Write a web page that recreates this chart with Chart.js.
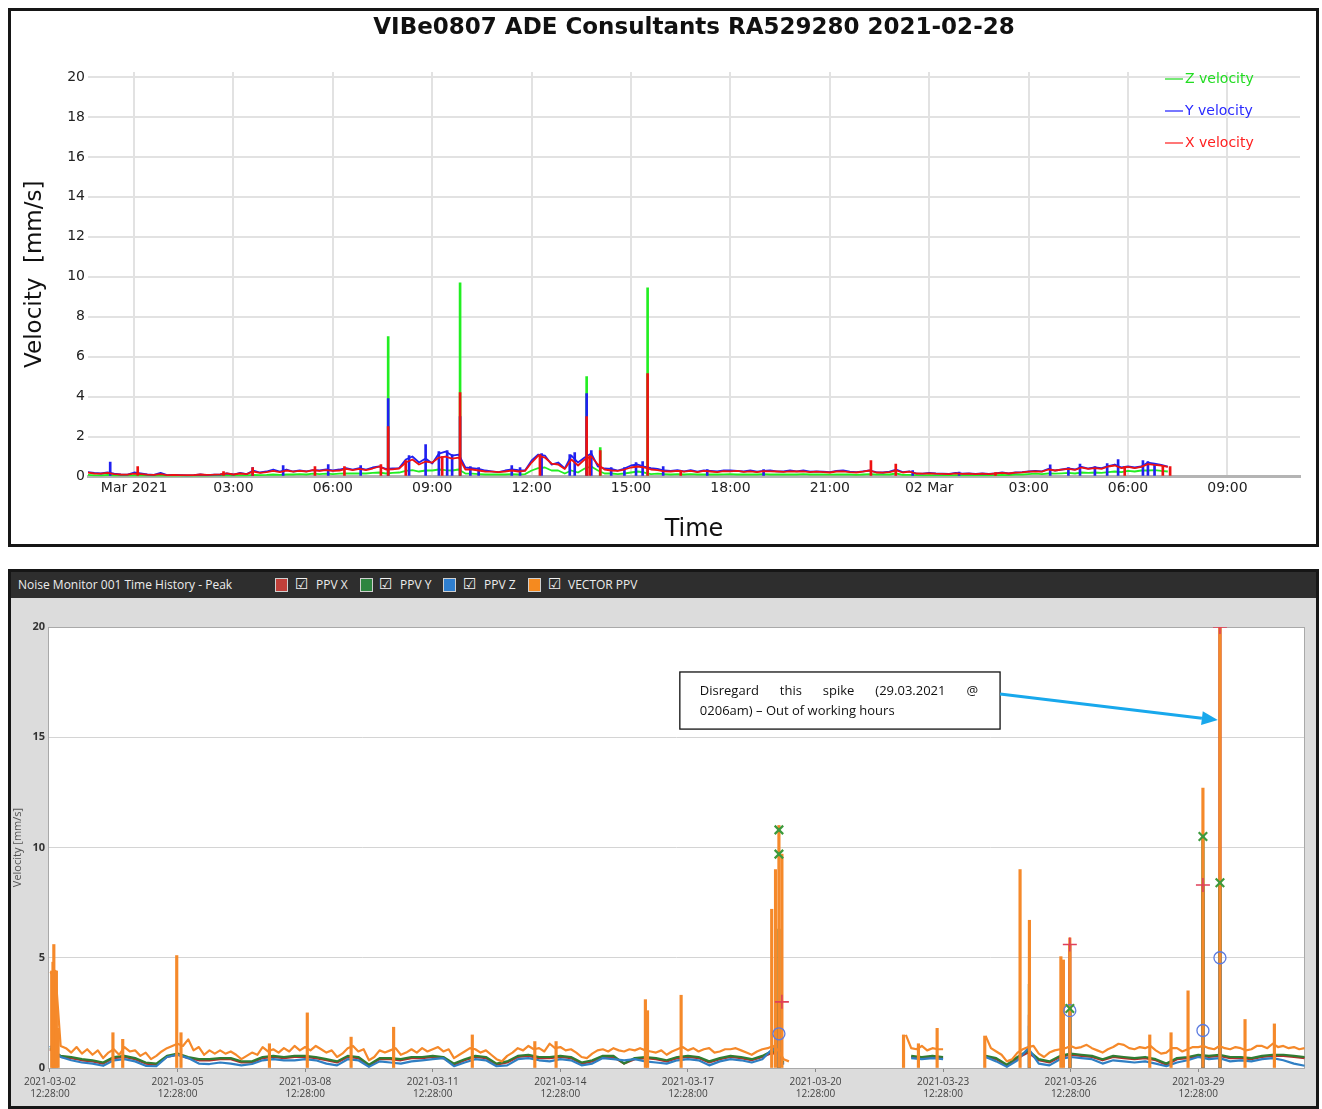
<!DOCTYPE html>
<html>
<head>
<meta charset="utf-8">
<title>Vibration charts</title>
<script src="https://cdn.jsdelivr.net/npm/chart.js@4.4.1/dist/chart.umd.min.js"></script>
<style>
  body { margin: 0; background: #fff; width: 1322px; height: 1109px; position: relative; overflow: hidden; }
  #top { position: absolute; left: 8px; top: 8px; width: 1311px; height: 539px; border: 3px solid #161616; box-sizing: border-box; background: #fff; }
  #bot { position: absolute; left: 8px; top: 569px; width: 1311px; height: 540px; border: 3px solid #161616; box-sizing: border-box; background: #dcdcdc; }
  #hdr { position: relative; height: 26px; background: #2e2e2e; color: #ececec; font: 12px 'Open Sans', sans-serif; }
  #hdr span { position: absolute; top: 0; line-height: 26px; white-space: nowrap; }
  #hdr .sw { top: 6px; width: 13px; height: 14px; border: 1px solid #d0d0d0; box-sizing: border-box; }
  #hdr .ck { font: 15px 'DejaVu Sans', sans-serif; color: #f2f2f2; line-height: 25px; }
  canvas { display: block; }
</style>
</head>
<body>
<div id="top"><canvas id="vibChart" width="1305" height="533"></canvas></div>
<div id="bot">
  <div id="hdr">
    <span style="left:7px">Noise Monitor 001 Time History - Peak</span>
    <span class="sw" style="left:264px;background:#c0403a"></span><span class="ck" style="left:284px">☑</span><span style="left:305px">PPV X</span>
    <span class="sw" style="left:349px;background:#2e8540"></span><span class="ck" style="left:368px">☑</span><span style="left:389px">PPV Y</span>
    <span class="sw" style="left:432px;background:#2f7fd0"></span><span class="ck" style="left:452px">☑</span><span style="left:473px">PPV Z</span>
    <span class="sw" style="left:517px;background:#f58a1f"></span><span class="ck" style="left:537px">☑</span><span style="left:557px">VECTOR PPV</span>
  </div>
  <canvas id="noiseChart" width="1305" height="508"></canvas>
</div>
<script>
// ---------- top chart: hours from 01 Mar 2021 00:00, one sample every 12 min ----------
const topStart = -1.4;
const topStep = 0.2;

// each row = one hour (5 samples)
const xVel = [
  0.20, 0.15, 0.14, 0.18, 0.12,
  0.10, 0.09, 0.14, 0.12, 0.09,
  0.08, 0.12, 0.07, 0.08, 0.07,
  0.07, 0.07, 0.10, 0.08, 0.09,
  0.11, 0.16, 0.10, 0.15, 0.12,
  0.25, 0.18, 0.22, 0.28, 0.22,
  0.30, 0.24, 0.28, 0.25, 0.32,
  0.28, 0.32, 0.28, 0.30, 0.38,
  0.32, 0.38, 0.32, 0.40, 0.50,
  0.35, 0.36, 0.40, 0.70, 0.85,
  0.60, 0.75, 0.70, 0.95, 1.00,
  0.90, 0.95, 0.35, 0.35, 0.30,
  0.25, 0.24, 0.22, 0.25, 0.30,
  0.25, 0.28, 0.70, 1.05, 0.95,
  0.65, 0.60, 0.38, 0.85, 0.55,
  0.85, 1.00, 0.60, 0.35, 0.30,
  0.28, 0.35, 0.45, 0.50, 0.45,
  0.35, 0.32, 0.26, 0.25, 0.28,
  0.24, 0.28, 0.22, 0.28, 0.25,
  0.22, 0.27, 0.26, 0.28, 0.23,
  0.26, 0.22, 0.27, 0.26, 0.25,
  0.23, 0.26, 0.25, 0.26, 0.22,
  0.24, 0.22, 0.20, 0.25, 0.26,
  0.22, 0.20, 0.24, 0.30, 0.20,
  0.19, 0.22, 0.30, 0.20, 0.24,
  0.15, 0.14, 0.16, 0.14, 0.13,
  0.12, 0.16, 0.13, 0.14, 0.12,
  0.14, 0.12, 0.15, 0.18, 0.15,
  0.19, 0.21, 0.24, 0.26, 0.24,
  0.35, 0.30, 0.34, 0.38, 0.33,
  0.45, 0.38, 0.42, 0.38, 0.50,
  0.55, 0.42, 0.48, 0.42, 0.48,
  0.62, 0.58, 0.55, 0.48
];
const yVel = [
  0.22, 0.18, 0.15, 0.20, 0.14,
  0.10, 0.09, 0.20, 0.15, 0.10,
  0.08, 0.18, 0.07, 0.08, 0.07,
  0.06, 0.07, 0.10, 0.07, 0.09,
  0.10, 0.15, 0.10, 0.18, 0.12,
  0.30, 0.20, 0.25, 0.35, 0.25,
  0.35, 0.25, 0.30, 0.26, 0.32,
  0.30, 0.35, 0.30, 0.35, 0.42,
  0.35, 0.42, 0.35, 0.45, 0.50,
  0.38, 0.40, 0.42, 0.85, 1.00,
  0.70, 0.90, 0.65, 1.15, 1.25,
  1.05, 1.10, 0.45, 0.42, 0.38,
  0.30, 0.26, 0.22, 0.30, 0.35,
  0.32, 0.30, 0.80, 1.10, 1.05,
  0.60, 0.70, 0.40, 1.05, 0.70,
  0.95, 1.15, 0.50, 0.40, 0.38,
  0.30, 0.40, 0.55, 0.60, 0.50,
  0.42, 0.38, 0.30, 0.28, 0.32,
  0.26, 0.32, 0.24, 0.30, 0.28,
  0.25, 0.30, 0.30, 0.28, 0.25,
  0.30, 0.24, 0.28, 0.30, 0.26,
  0.25, 0.30, 0.26, 0.30, 0.24,
  0.26, 0.24, 0.22, 0.28, 0.30,
  0.24, 0.22, 0.26, 0.30, 0.22,
  0.20, 0.24, 0.35, 0.22, 0.26,
  0.16, 0.14, 0.18, 0.15, 0.14,
  0.13, 0.18, 0.14, 0.15, 0.13,
  0.15, 0.13, 0.16, 0.20, 0.15,
  0.20, 0.22, 0.25, 0.28, 0.26,
  0.38, 0.30, 0.35, 0.40, 0.35,
  0.48, 0.40, 0.45, 0.42, 0.52,
  0.60, 0.45, 0.50, 0.45, 0.50,
  0.70, 0.65, 0.58, 0.50
];
const zVel = [
  0.08, 0.06, 0.05, 0.08, 0.05,
  0.04, 0.04, 0.06, 0.05, 0.04,
  0.03, 0.04, 0.03, 0.03, 0.03,
  0.03, 0.03, 0.04, 0.03, 0.04,
  0.04, 0.05, 0.04, 0.05, 0.05,
  0.08, 0.07, 0.08, 0.10, 0.08,
  0.10, 0.10, 0.12, 0.10, 0.14,
  0.12, 0.14, 0.12, 0.14, 0.16,
  0.15, 0.16, 0.15, 0.18, 0.20,
  0.15, 0.18, 0.20, 0.28, 0.32,
  0.25, 0.30, 0.30, 0.35, 0.32,
  0.30, 0.35, 0.15, 0.14, 0.12,
  0.10, 0.10, 0.10, 0.10, 0.12,
  0.10, 0.12, 0.30, 0.42, 0.45,
  0.30, 0.30, 0.15, 0.30, 0.20,
  0.40, 0.50, 0.30, 0.15, 0.15,
  0.12, 0.15, 0.20, 0.25, 0.20,
  0.12, 0.14, 0.12, 0.10, 0.12,
  0.10, 0.12, 0.10, 0.11, 0.10,
  0.10, 0.11, 0.12, 0.10, 0.10,
  0.11, 0.10, 0.12, 0.10, 0.11,
  0.10, 0.11, 0.10, 0.12, 0.10,
  0.10, 0.10, 0.09, 0.10, 0.11,
  0.10, 0.08, 0.10, 0.12, 0.10,
  0.10, 0.10, 0.15, 0.08, 0.08,
  0.07, 0.06, 0.07, 0.06, 0.06,
  0.06, 0.07, 0.06, 0.06, 0.06,
  0.07, 0.06, 0.07, 0.08, 0.07,
  0.10, 0.10, 0.12, 0.14, 0.12,
  0.15, 0.14, 0.16, 0.18, 0.15,
  0.20, 0.18, 0.20, 0.18, 0.22,
  0.25, 0.22, 0.28, 0.25, 0.30,
  0.30, 0.32, 0.28, 0.25
];

// single-reading peaks, per component
const xSpikeHours = [0.11, 2.7, 3.58, 5.46, 6.35, 7.45, 7.67, 8.2, 9.3, 9.84, 12.25, 13.66, 13.75, 14.07, 15.5, 16.5, 22.24, 22.99, 26.0, 29.9, 31.05, 31.27];
const xSpikeVals = [0.5, 0.25, 0.45, 0.5, 0.5, 0.6, 2.5, 0.8, 1.0, 4.2, 1.1, 3.0, 1.05, 1.3, 5.15, 0.3, 0.8, 0.62, 0.2, 0.5, 0.55, 0.5];
const ySpikeHours = [-0.72, 3.58, 4.5, 5.86, 6.84, 7.67, 8.3, 8.8, 9.2, 9.45, 9.6, 9.84, 10.15, 10.4, 11.4, 11.65, 12.3, 13.15, 13.3, 13.66, 13.8,
  14.4, 14.8, 15.15, 15.35, 15.97, 17.3, 19.0, 23.5, 24.9, 27.65, 28.2, 28.55, 29.0, 29.37, 29.7, 30.45, 30.6, 30.8];
const ySpikeVals = [0.72, 0.45, 0.55, 0.6, 0.55, 3.9, 1.05, 1.6, 1.25, 1.3, 1.1, 3.0, 0.5, 0.45, 0.55, 0.45, 1.15, 1.1, 1.2, 4.15, 1.3,
  0.45, 0.45, 0.7, 0.75, 0.5, 0.35, 0.35, 0.3, 0.22, 0.58, 0.45, 0.62, 0.5, 0.65, 0.85, 0.8, 0.75, 0.6];
const zSpikeHours = [7.67, 9.84, 13.66, 14.07, 15.5];
const zSpikeVals = [7.0, 9.7, 5.0, 1.45, 9.45];

const topTickHours = [0, 3, 6, 9, 12, 15, 18, 21, 24, 27, 30, 33];
const topTickLabels = ['Mar 2021', '03:00', '06:00', '09:00', '12:00', '15:00', '18:00', '21:00', '02 Mar', '03:00', '06:00', '09:00'];
const topYTicks = [0, 2, 4, 6, 8, 10, 12, 14, 16, 18, 20];

// ---------- bottom chart: days from 2021-03-02 12:28 ----------
const vecStep = 0.125;   // vector PPV every 3 h
const compStep = 0.25;   // components every 6 h

// each row = one day (8 samples), null = no data
const vectorPpv = [
  4.3, 4.4, 1.0, 0.9, 0.7, 0.95, 0.65, 0.85,
  0.6, 0.8, 0.45, 0.7, 0.85, 0.6, 0.95, 0.75,
  0.8, 0.55, 0.7, 0.4, 0.55, 0.75, 0.9, 1.0,
  1.1, 1.0, 1.3, 0.8, 0.95, 0.6, 0.8, 0.65,
  0.8, 0.65, 0.75, 0.6, 0.4, 0.55, 0.7, 0.6,
  0.95, 0.75, 0.85, 0.7, 0.9, 0.75, 1.0, 0.8,
  0.95, 0.8, 1.0, 0.85, 0.7, 0.8, 0.5, 0.65,
  0.9, 1.0, 0.75, 0.85, 0.35, 0.5, 0.8, 0.7,
  0.8, 0.9, 0.6, 0.7, 0.85, 0.7, 0.9, 0.75,
  0.85, 0.95, 0.75, 0.85, 0.45, 0.6, 0.75, 0.9,
  0.85, 0.7, 0.8, 0.6, 0.4, 0.3, 0.55, 0.7,
  0.9, 0.8, 1.0, 0.85, 0.9, 0.75, 1.1, 0.9,
  0.95, 0.8, 0.85, 0.7, 0.5, 0.45, 0.65, 0.8,
  0.85, 0.75, 0.9, 0.8, 0.75, 0.85, 0.8, 0.9,
  0.8, 0.75, 0.7, 0.8, 0.6, 0.75, 0.85, 0.95,
  0.8, 0.9, 0.75, 0.85, 0.9, 0.7, 0.75, 0.85,
  0.85, 0.9, 0.8, 0.7, 0.6, 0.75, 0.85, 0.9,
  1.0, 0.8, 0.4, 0.3, null, null, null, null,
  null, null, null, null, null, null, null, null,
  null, null, null, null, null, null, null, null,
  null, 1.5, 0.9, 0.85, 1.0, 0.8, 0.9, 0.85,
  0.85, null, null, null, null, null, null, null,
  1.45, 0.9, 0.75, 0.6, 0.3, 0.4, 0.7, 0.85,
  0.95, 1.0, 0.65, 0.5, 0.7, 0.8, 0.85, 0.9,
  1.0, 0.9, 0.95, 1.05, 0.9, 0.8, 0.7, 0.85,
  0.95, 1.1, 1.05, 0.9, 0.85, 0.95, 0.9, 1.0,
  0.8, 0.65, 0.7, 0.9, 0.9, 0.75, 0.85, 0.95,
  0.95, 1.0, 0.9, 0.85, 1.0, 0.9, 0.85, 0.95,
  0.9, 0.8, 0.85, 1.0, 1.0, 0.9, 1.1, 0.95,
  1.0, 0.9, 0.95, 0.85, 0.9
];
// each row = one day (4 samples)
const ppvZ = [
  1.0, 0.5, 0.35, 0.25,
  0.2, 0.1, 0.35, 0.4,
  0.3, 0.1, 0.08, 0.5,
  0.6, 0.45, 0.2, 0.18,
  0.25, 0.2, 0.12, 0.18,
  0.35, 0.4, 0.35, 0.35,
  0.4, 0.35, 0.2, 0.12,
  0.4, 0.35, 0.05, 0.3,
  0.25, 0.2, 0.3, 0.35,
  0.4, 0.45, 0.08, 0.25,
  0.4, 0.35, 0.08, 0.12,
  0.4, 0.45, 0.35, 0.3,
  0.4, 0.35, 0.12, 0.2,
  0.45, 0.4, 0.35, 0.4,
  0.3, 0.25, 0.2, 0.35,
  0.4, 0.35, 0.12, 0.3,
  0.4, 0.35, 0.25, 0.4,
  0.9, 0.15, null, null,
  null, null, null, null,
  null, null, null, null,
  null, 0.45, 0.4, 0.45,
  0.4, null, null, null,
  0.5, 0.3, 0.05, 0.35,
  0.9, 0.2, 0.12, 0.4,
  0.5, 0.45, 0.4, 0.2,
  0.35, 0.3, 0.25, 0.3,
  0.2, 0.08, 0.25, 0.35,
  0.5, 0.4, 0.45, 0.3,
  0.35, 0.3, 0.4, 0.45,
  0.35, 0.2, 0.1
];
const ppvY = [
  0.9, 0.55, 0.5, 0.4,
  0.35, 0.25, 0.5, 0.55,
  0.45, 0.25, 0.2, 0.55,
  0.65, 0.5, 0.4, 0.4,
  0.45, 0.45, 0.3, 0.3,
  0.5, 0.55, 0.5, 0.55,
  0.55, 0.5, 0.4, 0.3,
  0.55, 0.5, 0.15, 0.45,
  0.45, 0.4, 0.5, 0.5,
  0.55, 0.5, 0.2, 0.4,
  0.55, 0.5, 0.2, 0.3,
  0.55, 0.6, 0.5, 0.5,
  0.55, 0.5, 0.25, 0.35,
  0.55, 0.55, 0.2, 0.45,
  0.5, 0.45, 0.35, 0.5,
  0.55, 0.5, 0.3, 0.45,
  0.55, 0.5, 0.4, 0.55,
  0.8, 0.25, null, null,
  null, null, null, null,
  null, null, null, null,
  null, 0.55, 0.5, 0.55,
  0.5, null, null, null,
  0.55, 0.45, 0.15, 0.5,
  0.8, 0.4, 0.3, 0.55,
  0.65, 0.6, 0.55, 0.4,
  0.55, 0.5, 0.45, 0.5,
  0.4, 0.2, 0.45, 0.5,
  0.6, 0.55, 0.6, 0.5,
  0.5, 0.45, 0.55, 0.6,
  0.6, 0.55, 0.5
];
const ppvX = [
  0.85, 0.5, 0.45, 0.35,
  0.3, 0.2, 0.45, 0.5,
  0.4, 0.2, 0.15, 0.5,
  0.6, 0.45, 0.35, 0.35,
  0.4, 0.4, 0.25, 0.25,
  0.45, 0.5, 0.45, 0.5,
  0.5, 0.45, 0.35, 0.25,
  0.5, 0.45, 0.1, 0.4,
  0.4, 0.35, 0.45, 0.45,
  0.5, 0.45, 0.15, 0.35,
  0.5, 0.45, 0.15, 0.25,
  0.5, 0.55, 0.45, 0.45,
  0.5, 0.45, 0.2, 0.3,
  0.5, 0.5, 0.2, 0.4,
  0.45, 0.4, 0.3, 0.45,
  0.5, 0.45, 0.25, 0.4,
  0.5, 0.45, 0.35, 0.5,
  0.7, 0.2, null, null,
  null, null, null, null,
  null, null, null, null,
  null, 0.5, 0.45, 0.5,
  0.45, null, null, null,
  0.5, 0.4, 0.1, 0.45,
  0.7, 0.35, 0.25, 0.5,
  0.6, 0.55, 0.5, 0.35,
  0.5, 0.45, 0.4, 0.45,
  0.35, 0.15, 0.4, 0.45,
  0.55, 0.5, 0.55, 0.45,
  0.45, 0.4, 0.5, 0.55,
  0.55, 0.5, 0.45
];

// short peaks
const vectorSpikeDays = [0.04, 0.07, 0.09, 0.12, 0.15, 0.19, 1.48, 1.71, 2.98, 3.08, 5.16, 6.05, 7.08, 8.08, 9.93, 11.4, 11.9, 14.0, 14.05, 14.84,
  16.97, 17.06, 17.14, 17.21, 20.07, 20.42, 20.86, 21.98, 22.81, 23.03, 23.77, 23.83, 23.98, 25.86, 26.36, 26.76, 27.11, 27.51, 28.1, 28.79];
const vectorSpikeVals = [4.4, 4.8, 5.6, 4.4, 4.4, 1.8, 1.6, 1.3, 5.1, 1.6, 1.1, 2.5, 1.4, 1.85, 1.5, 1.2, 1.2, 3.1, 2.6, 3.3,
  7.2, 9.0, 11.0, 9.7, 1.5, 1.1, 1.8, 1.45, 9.0, 6.7, 5.05, 4.9, 5.9, 1.5, 1.6, 3.5, 12.7, 20.0, 2.2, 2.0];
const compSpikeDays = [17.14, 23.03, 23.98, 27.11, 27.51];
const ppvXSpikes = [3.0, 2.4, 5.6, 8.3, 20.0];
const ppvYSpikes = [6.3, 3.8, 2.7, 10.5, 8.4];
const ppvZSpikes = [1.55, 1.9, 2.6, 1.7, 5.0];

// peak markers
const peakXDays = [17.21, 23.98, 27.11, 27.51];
const peakXVals = [3.0, 5.6, 8.3, 20.0];
const peakYDays = [17.14, 17.14, 23.98, 27.11, 27.51];
const peakYVals = [10.8, 9.7, 2.7, 10.5, 8.4];
const peakZDays = [17.14, 23.98, 27.11, 27.51];
const peakZVals = [1.55, 2.6, 1.7, 5.0];

const botTickDays = [0, 3, 6, 9, 12, 15, 18, 21, 24, 27];
const botTickDates = ['2021-03-02', '2021-03-05', '2021-03-08', '2021-03-11', '2021-03-14', '2021-03-17', '2021-03-20', '2021-03-23', '2021-03-26', '2021-03-29'];
const botTickTime = '12:28:00';
const botYTicks = [0, 5, 10, 15, 20];

const noteLine1 = 'Disregard this spike (29.03.2021 @';
const noteLine2 = '0206am) \u2013 Out of working hours';
// annotation box + arrow in data units (days, mm/s)
const noteBox = { x0: 14.81, x1: 22.34, y0: 17.96, y1: 15.37, arrowFromY: 16.96, arrowToX: 27.46, arrowToY: 15.78 };

// ---------- helpers ----------
const pts = (xs, ys) => ys.map((v, i) => ({ x: xs[i], y: v }));
const topHours = xVel.map((_, i) => +(topStart + i * topStep).toFixed(2));
const vecDays = vectorPpv.map((_, i) => +(i * vecStep).toFixed(3));
const compDays = ppvZ.map((_, i) => +(i * compStep).toFixed(2));

function keepTicks(list) {
  return scale => { scale.ticks = list.map(v => ({ value: v })); };
}

// ---------- top chart ----------
const lineBase = { type: 'line', pointRadius: 0, borderWidth: 1.8, tension: 0, borderJoinStyle: 'round', spanGaps: false };
const barBase = { type: 'bar', barThickness: 2, grouped: false, borderWidth: 0 };

const topLegend = {
  id: 'topLegend',
  afterDraw(chart) {
    const { ctx, chartArea } = chart;
    const items = [
      { label: 'Z velocity', line: '#77e877', text: '#22dd22' },
      { label: 'Y velocity', line: '#7777ff', text: '#2a2aff' },
      { label: 'X velocity', line: '#ff7777', text: '#ff2020' }
    ];
    ctx.save();
    ctx.font = "14px 'DejaVu Sans'";
    ctx.textBaseline = 'middle';
    items.forEach((it, i) => {
      const yy = chartArea.top + 7 + i * 32;
      ctx.strokeStyle = it.line;
      ctx.lineWidth = 2;
      ctx.beginPath();
      ctx.moveTo(chartArea.right - 135, yy);
      ctx.lineTo(chartArea.right - 117, yy);
      ctx.stroke();
      ctx.fillStyle = it.text;
      ctx.fillText(it.label, chartArea.right - 115, yy);
    });
    ctx.restore();
  }
};

new Chart(document.getElementById('vibChart'), {
  type: 'line',
  data: {
    datasets: [
      { ...barBase, label: 'X spikes', data: pts(xSpikeHours, xSpikeVals), backgroundColor: '#ee1111' },
      { ...lineBase, label: 'X velocity', data: pts(topHours, xVel), borderColor: '#ee1111' },
      { ...barBase, label: 'Y spikes', data: pts(ySpikeHours, ySpikeVals), backgroundColor: '#2020f0' },
      { ...lineBase, label: 'Y velocity', data: pts(topHours, yVel), borderColor: '#2020f0' },
      { ...barBase, label: 'Z spikes', data: pts(zSpikeHours, zSpikeVals), backgroundColor: '#22ee22' },
      { ...lineBase, label: 'Z velocity', data: pts(topHours, zVel), borderColor: '#22ee22' }
    ]
  },
  options: {
    responsive: false,
    animation: false,
    events: [],
    layout: { padding: { left: 0, right: 16, top: 0, bottom: 0 } },
    plugins: {
      legend: { display: false },
      tooltip: { enabled: false },
      title: {
        display: true,
        fullSize: false,
        text: 'VIBe0807 ADE Consultants RA529280 2021-02-28',
        color: '#111',
        font: { family: "'DejaVu Sans'", size: 23, weight: 'bold' },
        padding: { top: 3, bottom: 30.4 }
      }
    },
    scales: {
      x: {
        type: 'linear',
        min: -1.39,
        max: 35.19,
        offset: false,
        afterBuildTicks: keepTicks(topTickHours),
        afterFit: s => { s.height = 67.5; },
        ticks: {
          maxRotation: 0,
          autoSkip: false,
          padding: 3,
          color: '#222',
          font: { family: "'DejaVu Sans'", size: 14 },
          callback: v => topTickLabels[topTickHours.indexOf(v)]
        },
        grid: { color: '#e2e2e2', lineWidth: 2, drawTicks: false, offset: false },
        border: { color: '#b4b4b4', width: 3 },
        title: { display: true, text: 'Time', color: '#111', font: { family: "'DejaVu Sans'", size: 24 }, padding: { top: 0, bottom: 0 } }
      },
      y: {
        min: 0,
        max: 20.25,
        afterBuildTicks: keepTicks(topYTicks),
        afterFit: s => { s.width = 77; },
        ticks: { padding: 3, color: '#222', font: { family: "'DejaVu Sans'", size: 14 } },
        grid: { color: '#e2e2e2', lineWidth: 2, drawTicks: false },
        border: { display: false },
        title: { display: true, text: 'Velocity  [mm/s]', color: '#111', font: { family: "'DejaVu Sans'", size: 23 }, padding: { top: 10, bottom: 0 } }
      }
    }
  },
  plugins: [topLegend]
});

// ---------- bottom chart ----------
const plotFrame = {
  id: 'plotFrame',
  beforeDraw(chart) {
    const { ctx, chartArea: a } = chart;
    ctx.save();
    ctx.fillStyle = '#ffffff';
    ctx.fillRect(a.left, a.top, a.right - a.left, a.bottom - a.top);
    ctx.restore();
  },
  beforeDatasetsDraw(chart) {
    const { ctx, chartArea: a } = chart;
    ctx.save();
    ctx.strokeStyle = '#a9a9a9';
    ctx.lineWidth = 1;
    ctx.strokeRect(a.left + 0.5, a.top + 0.5, a.right - a.left - 1, a.bottom - a.top);
    ctx.restore();
  }
};

const notePlugin = {
  id: 'note',
  afterDatasetsDraw(chart) {
    const { ctx, scales: { x, y } } = chart;
    const l = x.getPixelForValue(noteBox.x0), r = x.getPixelForValue(noteBox.x1);
    const t = y.getPixelForValue(noteBox.y0), b = y.getPixelForValue(noteBox.y1);
    ctx.save();
    ctx.fillStyle = '#fff';
    ctx.fillRect(l, t, r - l, b - t);
    ctx.strokeStyle = '#111';
    ctx.lineWidth = 1.3;
    ctx.strokeRect(l, t, r - l, b - t);
    ctx.font = "13px 'Open Sans'";
    ctx.fillStyle = '#111';
    ctx.textBaseline = 'middle';
    const words = noteLine1.split(' ');
    const tl = l + 20, tr = r - 22;
    const total = words.reduce((s, w) => s + ctx.measureText(w).width, 0);
    const gap = (tr - tl - total) / (words.length - 1);
    let cx = tl;
    words.forEach(w => { ctx.fillText(w, cx, t + 19); cx += ctx.measureText(w).width + gap; });
    ctx.fillText(noteLine2, tl, t + 39);

    // arrow
    const sx = r, sy = y.getPixelForValue(noteBox.arrowFromY);
    const ex = x.getPixelForValue(noteBox.arrowToX), ey = y.getPixelForValue(noteBox.arrowToY);
    const ang = Math.atan2(ey - sy, ex - sx);
    const head = 16, half = 7;
    ctx.strokeStyle = '#18a8ec';
    ctx.fillStyle = '#18a8ec';
    ctx.lineWidth = 3;
    ctx.beginPath();
    ctx.moveTo(sx, sy);
    ctx.lineTo(ex - head * Math.cos(ang), ey - head * Math.sin(ang));
    ctx.stroke();
    ctx.beginPath();
    ctx.moveTo(ex, ey);
    ctx.lineTo(ex - head * Math.cos(ang) + half * Math.sin(ang), ey - head * Math.sin(ang) - half * Math.cos(ang));
    ctx.lineTo(ex - head * Math.cos(ang) - half * Math.sin(ang), ey - head * Math.sin(ang) + half * Math.cos(ang));
    ctx.closePath();
    ctx.fill();
    ctx.restore();
  }
};

const botLine = { type: 'line', pointRadius: 0, borderWidth: 2.2, tension: 0, borderJoinStyle: 'round', spanGaps: false };
const botBar = { type: 'bar', barThickness: 2.5, grouped: false, borderWidth: 0 };
const marker = { type: 'line', showLine: false, pointRadius: 6, pointBorderWidth: 1.6, pointBackgroundColor: 'rgba(0,0,0,0)' };

new Chart(document.getElementById('noiseChart'), {
  type: 'line',
  data: {
    datasets: [
      { ...marker, label: 'Peak X', data: pts(peakXDays, peakXVals), pointStyle: 'cross', pointBorderColor: '#e0405a', pointRadius: 7 },
      { ...marker, label: 'Peak Y', data: pts(peakYDays, peakYVals), pointStyle: 'crossRot', pointBorderColor: '#3c9a3c', pointBorderWidth: 2.2 },
      { ...marker, label: 'Peak Z', data: pts(peakZDays, peakZVals), pointStyle: 'circle', pointBorderColor: '#5b7be0', pointBorderWidth: 1.3 },
      { ...botBar, label: 'VECTOR PPV peaks', data: pts(vectorSpikeDays, vectorSpikeVals), backgroundColor: '#f5892a' },
      { ...botLine, label: 'VECTOR PPV', data: pts(vecDays, vectorPpv), borderColor: '#f5892a' },
      { ...botBar, label: 'PPV Z peaks', data: pts(compSpikeDays, ppvZSpikes), backgroundColor: '#2f7fc4' },
      { ...botLine, label: 'PPV Z', data: pts(compDays, ppvZ), borderColor: '#2f7fc4' },
      { ...botBar, label: 'PPV Y peaks', data: pts(compSpikeDays, ppvYSpikes), backgroundColor: '#2f7d32' },
      { ...botLine, label: 'PPV Y', data: pts(compDays, ppvY), borderColor: '#2f7d32' },
      { ...botBar, label: 'PPV X peaks', data: pts(compSpikeDays, ppvXSpikes), backgroundColor: '#b2302e' },
      { ...botLine, label: 'PPV X', data: pts(compDays, ppvX), borderColor: '#b2302e' }
    ]
  },
  options: {
    responsive: false,
    animation: false,
    events: [],
    layout: { padding: { left: 0, right: 11, top: 29, bottom: 0 } },
    plugins: { legend: { display: false }, tooltip: { enabled: false } },
    scales: {
      x: {
        type: 'linear',
        min: -0.047,
        max: 29.51,
        offset: false,
        afterBuildTicks: keepTicks(botTickDays),
        afterFit: s => { s.height = 38; },
        ticks: {
          maxRotation: 0,
          autoSkip: false,
          padding: 4,
          color: '#444',
          font: { family: "'Open Sans'", size: 10 },
          callback: v => [botTickDates[botTickDays.indexOf(v)], botTickTime]
        },
        grid: { drawOnChartArea: false, drawTicks: true, tickLength: 4, color: '#8a8a8a', offset: false },
        border: { display: false }
      },
      y: {
        min: 0,
        max: 20,
        afterBuildTicks: keepTicks(botYTicks),
        afterFit: s => { s.width = 37; },
        ticks: { padding: 3, color: '#333', font: { family: "'Open Sans'", size: 11, weight: 'bold' } },
        grid: { color: '#d4d4d4', lineWidth: 1, drawTicks: false },
        border: { display: false },
        title: { display: true, text: 'Velocity [mm/s]', color: '#555', font: { family: "'Open Sans'", size: 11 }, padding: { top: 0, bottom: 0 } }
      }
    }
  },
  plugins: [plotFrame, notePlugin]
});
</script>
</body>
</html>
